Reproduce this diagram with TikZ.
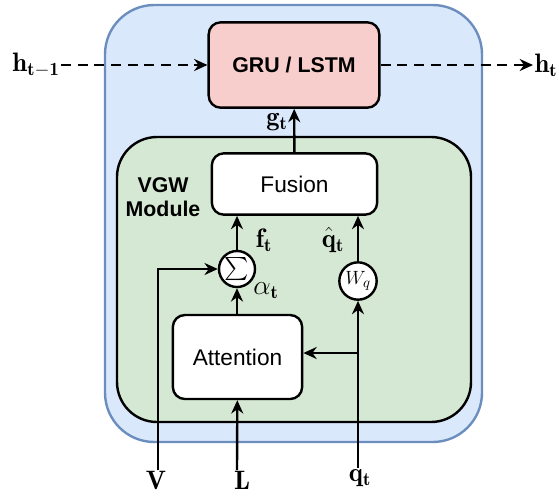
\documentclass[tikz,border=0pt]{standalone}
\usepackage{amsmath}
\usepackage{fontspec}
\setsansfont{Liberation Sans}
\usepackage{tikz}
\usetikzlibrary{arrows.meta, calc, positioning}
\definecolor{outerFill}{HTML}{DAE8FC}
\definecolor{outerLine}{HTML}{6C8EBF}
\definecolor{moduleFill}{HTML}{D5E8D4}
\definecolor{rnnFill}{HTML}{F8CECC}
\tikzset{
    blockBox/.style={draw, line width=1.8pt, rounded corners=9pt, fill=white, font=\sffamily\fontsize{17}{19}\selectfont, inner sep=0pt},
    opCircle/.style={circle, draw, line width=1.8pt, fill=white, inner sep=0pt},
    sigLabel/.style={font=\fontsize{20}{22}\selectfont, inner sep=1pt},
    flowEdge/.style={-{Stealth[length=10pt, width=9pt]}, line width=1.8pt},
    stateEdge/.style={-{Stealth[length=10pt, width=9pt]}, line width=1.6pt, dash pattern=on 7.5pt off 5pt},
}
\newcommand{\drawFlow}[2]{
    \draw[flowEdge] (#1) -- (#2);
}
\begin{document}
\begin{tikzpicture}[x=0.75pt, y={(0pt,-0.75pt)}]
    \useasboundingbox (0,0) rectangle (559,497);

    % containers
    \draw[line width=1.8pt, draw=outerLine, fill=outerFill, rounded corners=37pt] (105,5) rectangle (482,442);
    \draw[line width=1.8pt, fill=moduleFill, rounded corners=30pt] (117,137) rectangle (471,422);

    % blocks
    \node[blockBox, fill=rnnFill, font=\sffamily\bfseries\fontsize{16}{18}\selectfont, minimum width=128pt, minimum height=64pt] (rnn) at (294,65) {GRU / LSTM};
    \node[blockBox, minimum width=124pt, minimum height=46pt] (fusion) at (294.5,184) {Fusion};
    \node[blockBox, minimum width=97pt, minimum height=63pt] (att) at (237.5,357) {Attention};
    \node[opCircle, minimum size=27pt, font=\fontsize{17}{19}\selectfont] (sum) at (237,269) {$\sum$};
    \node[opCircle, minimum size=28pt, font=\fontsize{15}{17}\selectfont] (wq) at (358,281) {$W_q$};
    \node[font=\sffamily\bfseries\fontsize{16}{18}\selectfont, align=center] (vgw) at (163,197) {VGW\\Module};

    % inputs and states
    \node[sigLabel] (hprev) at (36,65) {$\mathbf{h_{t-1}}$};
    \node[sigLabel] (hnext) at (546,65) {$\mathbf{h_t}$};
    \node[sigLabel, anchor=north] (vin) at (156,470) {$\mathbf{V}$};
    \node[sigLabel, anchor=north] (lin) at (242,470) {$\mathbf{L}$};
    \node[sigLabel, anchor=north] (qin) at (360,468) {$\mathbf{q_t}$};
    \coordinate (qsplit) at (358,353);

    % signal labels
    \node[sigLabel] (gt) at (277,122) {$\mathbf{g_t}$};
    \node[sigLabel] (ft) at (264,240) {$\mathbf{f_t}$};
    \node[sigLabel] (qhat) at (333,240) {$\hat{\mathbf{q}}_{\mathbf{t}}$};
    \node[sigLabel] (alpha) at (266,291) {$\alpha_{\mathbf{t}}$};

    \draw[stateEdge] (hprev) -- (rnn);
    \draw[stateEdge] (rnn) -- (hnext);
    \drawFlow{fusion}{rnn}
    \drawFlow{sum}{sum |- fusion.south}
    \drawFlow{wq}{wq |- fusion.south}
    \drawFlow{sum |- att.north}{sum}
    \drawFlow{lin.north -| sum}{att}
    \draw[flowEdge] (vin.north -| 158,0) |- (sum);
    \draw[flowEdge] (qin.north -| wq) -- (wq);
    \drawFlow{qsplit}{qsplit -| att.east}
\end{tikzpicture}
\end{document}
